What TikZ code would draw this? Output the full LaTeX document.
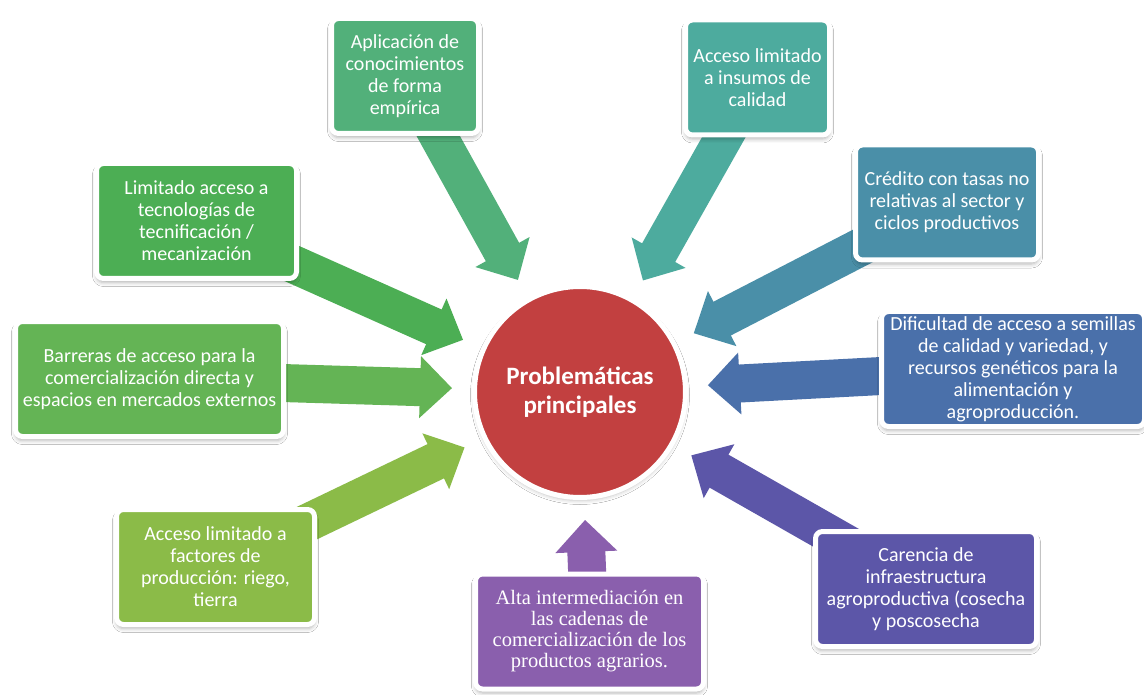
\documentclass[tikz,border=0pt]{standalone}
\usepackage{fontspec}
\setmainfont{Carlito}
\newfontfamily\serifbox{Liberation Serif}
\usetikzlibrary{arrows.meta,shadows.blur}
\pgfdeclarelayer{bg}
\pgfsetlayers{bg,main}
\definecolor{cA}{HTML}{52B07A}
\definecolor{cB}{HTML}{4DAB9E}
\definecolor{cC}{HTML}{4A8FA8}
\definecolor{cD}{HTML}{4CAE54}
\definecolor{cE}{HTML}{64B455}
\definecolor{cF}{HTML}{8BBB48}
\definecolor{cG}{HTML}{8A5FAD}
\definecolor{cH}{HTML}{5C56A8}
\definecolor{cI}{HTML}{4A70AA}
\definecolor{cRed}{HTML}{C24040}
\tikzset{
  box/.style={rounded corners=7pt, draw=white, line width=5pt, fill=#1,
    text=white, align=center, inner sep=0pt, minimum height=115pt,
    font=\fontsize{20}{22}\selectfont,
    blur shadow={shadow xshift=0pt, shadow yshift=-4pt, shadow blur radius=4pt, shadow opacity=30}},
  flow/.style={draw=#1, line width=38pt, -{Triangle[length=32pt,width=60pt]}, shorten >=20pt},
  hub/.style={circle, fill=cRed, draw=white, line width=5pt, minimum size=211pt, inner sep=0pt,
    text=white, align=center, font=\bfseries\fontsize{25}{29}\selectfont,
    blur shadow={shadow xshift=0pt, shadow yshift=-3pt, shadow blur radius=4pt, shadow opacity=25}}
}
\begin{document}
\begin{tikzpicture}[x=1pt,y=-1pt]
\useasboundingbox (0,0) rectangle (1144,695);
\node[hub] (c) at (580,392) {Problemáticas\\principales};
\node[box=cA, minimum width=147pt] (b1) at (405,76) {Aplicación de\\conocimientos\\de forma\\empírica};
\node[box=cB, minimum width=144pt] (b2) at (757.5,77.5) {Acceso limitado\\a insumos de\\calidad};
\node[box=cC, minimum width=183pt] (b3) at (947,202.5) {Crédito con tasas no\\relativas al sector y\\ciclos productivos};
\node[box=cD, minimum width=200pt] (b4) at (196.5,221) {Limitado acceso a\\tecnologías de\\tecnificación /\\mecanización};
\node[box=cE, minimum width=268pt] (b5) at (149.5,379) {Barreras de acceso para la\\comercialización directa y\\espacios en mercados externos};
\node[box=cF, minimum width=198pt] (b6) at (215.5,567) {Acceso limitado a\\factores de\\producción: riego,\\tierra};
\node[box=cG, minimum width=228pt, font=\serifbox\fontsize{20.5}{21}\selectfont] (b7) at (589.5,631.5) {Alta intermediación en\\las cadenas de\\comercialización de los\\productos agrarios.};
\node[box=cH, minimum width=221pt] (b8) at (926,589) {Carencia de\\infraestructura\\agroproductiva (cosecha\\y poscosecha};
\node[box=cI, minimum width=263pt] (b9) at (1013,369) {Dificultad de acceso a semillas\\de calidad y variedad, y\\recursos genéticos para la\\alimentación y\\agroproducción.};
\begin{pgfonlayer}{bg}
\fill[white] (0,0) rectangle (1144,695);
\draw[flow=cA] (b1.center) -- (c);
\draw[flow=cB] (b2.center) -- (c);
\draw[flow=cC] (b3.center) -- (c);
\draw[flow=cD] (b4.center) -- (c);
\draw[flow=cE] (b5.center) -- (c);
\draw[flow=cF] (b6.center) -- (c);
\draw[flow=cG] (b7.center) -- (c);
\draw[flow=cH] (b8.center) -- (c);
\draw[flow=cI] (b9.center) -- (c);
\end{pgfonlayer}
\end{tikzpicture}
\end{document}
